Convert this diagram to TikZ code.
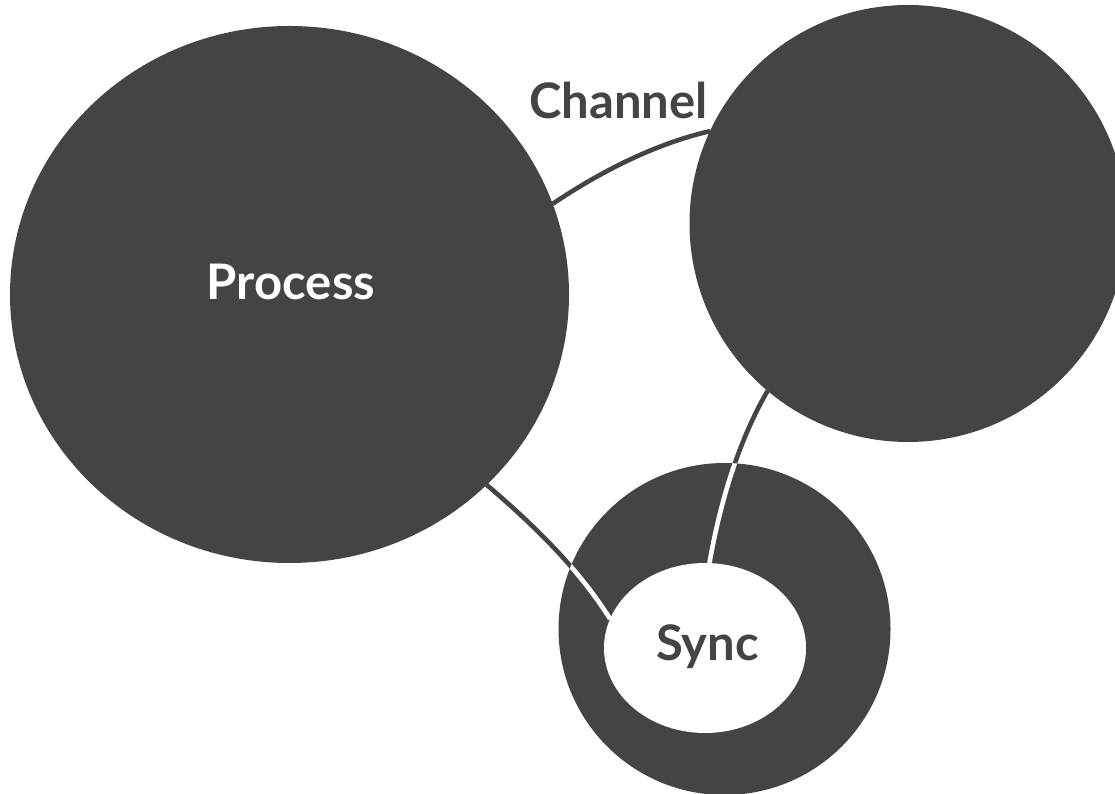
\documentclass[tikz,border=0pt]{standalone}
\usepackage{fontspec}
\setmainfont{Lato}
\usetikzlibrary{shapes.geometric,backgrounds}
\definecolor{ink}{HTML}{444444}
\tikzset{
  blob/.style={fill=ink, draw=none, inner sep=0pt, outer sep=0pt},
  hole/.style={fill=white, draw=none, inner sep=0pt, outer sep=0pt},
  wire/.style={draw=ink, line width=4.6pt},
  wirelight/.style={draw=white, line width=4.6pt},
  lbl/.style={font=\fontsize{49}{54}\selectfont\bfseries, anchor=base, inner sep=0pt},
}
\begin{document}
\begin{tikzpicture}[x=1pt,y=1pt]
\useasboundingbox (0,0) rectangle (1115,794);

% bodies
\node[blob, ellipse, minimum width=559pt, minimum height=537pt] (proc) at (289.5,499.5) {};
\node[blob, circle, minimum size=437pt] (worker) at (908,570.5) {};
\node[blob, circle, minimum size=332pt] (syncring) at (724.5,165) {};
\node[hole, ellipse, minimum width=202pt, minimum height=170pt] (sync) at (705,146) {};

% connectors, dark under the bodies
\begin{scope}[on background layer]
  \draw[wire] (proc.19.8) to[out=34, in=193, distance=57pt] (worker.155.7);
  \draw[wire] (proc.-44.6) to[out=-40.4, in=122, distance=60pt] (sync.163.9);
  \draw[wire] (worker.230.6) to[out=240, in=80, distance=60pt] (sync.87.3);
\end{scope}

% the same connectors, light where they cross the ring
\begin{scope}
  \clip (syncring.center) circle (166pt);
  \draw[wirelight] (proc.-44.6) to[out=-40.4, in=122, distance=60pt] (sync.163.9);
  \draw[wirelight] (worker.230.6) to[out=240, in=80, distance=60pt] (sync.87.3);
\end{scope}

% labels
\node[lbl, text=white] (proclabel) at (291,494) {Process};
\node[lbl, text=ink] (chanlabel) at (618.5,675) {Channel};
\node[lbl, text=ink] (synclabel) at (707.5,133) {Sync};
\end{tikzpicture}
\end{document}
